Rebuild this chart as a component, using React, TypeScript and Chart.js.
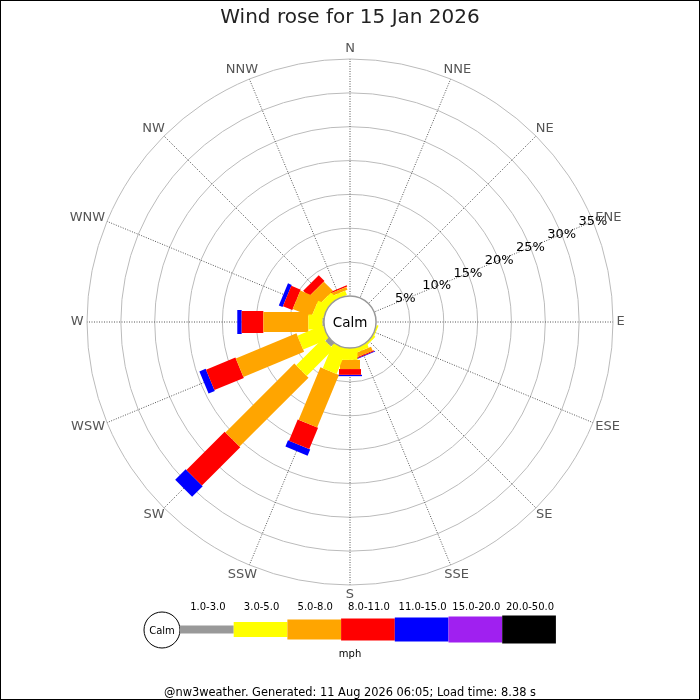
import { useEffect, useRef } from 'react';
import { Chart, registerables } from 'chart.js';

Chart.register(...registerables);

const TITLE = 'Wind rose for 15 Jan 2026';
const FOOTER = '@nw3weather. Generated: 11 Aug 2026 06:05; Load time: 8.38 s';
const UNIT = 'mph';
const CALM_LABEL = 'Calm';

const DIRECTIONS = ['N', 'NNE', 'NE', 'ENE', 'E', 'ESE', 'SE', 'SSE', 'S', 'SSW', 'SW', 'WSW', 'W', 'WNW', 'NW', 'NNW'];
const SPEED_BANDS = ['1.0-3.0', '3.0-5.0', '5.0-8.0', '8.0-11.0', '11.0-15.0', '15.0-20.0', '20.0-50.0'];
const BAND_COLORS = ['#999999', '#ffff00', '#ffa500', '#ff0000', '#0000ff', '#a020f0', '#000000'];
const BAND_WIDTHS = [8, 15, 20, 22, 24, 26, 28];

// percentage of time, per direction (N ... NNW), per speed band
const PCT_1_3 = [0, 0, 0, 0, 0, 0, 0, 0, 0, 0, 0.7, 0, 0.2, 0, 0, 0];
const PCT_3_5 = [0, 0, 0, 0, 0, 0.25, 0.35, 0.7, 1.75, 4.0, 5.6, 4.1, 2.1, 1.7, 1.2, 0.7];
const PCT_5_8 = [0, 0, 0, 0, 0, 0, 0, 0.65, 1.35, 8.4, 14.4, 9.7, 6.65, 3.0, 1.9, 0.45];
const PCT_8_11 = [0, 0, 0, 0, 0, 0, 0, 0.15, 0.85, 3.4, 8.0, 4.7, 3.2, 1.5, 1.2, 0.2];
const PCT_11_15 = [0, 0, 0, 0, 0, 0, 0, 0.1, 0.2, 1.0, 2.2, 1.0, 0.65, 0.6, 0, 0];
const PCT_15_20 = [0, 0, 0, 0, 0, 0, 0, 0, 0, 0, 0, 0, 0, 0, 0, 0];
const PCT_20_50 = [0, 0, 0, 0, 0, 0, 0, 0, 0, 0, 0, 0, 0, 0, 0, 0];

const BAND_DATA = [PCT_1_3, PCT_3_5, PCT_5_8, PCT_8_11, PCT_11_15, PCT_15_20, PCT_20_50];

const RING_TICKS = [5, 10, 15, 20, 25, 30, 35];
const SCALE_MIN = -3.85; // makes 0% fall on the calm circle
const SCALE_MAX = 35;
const TICK_LABEL_DIR = 3; // ENE

const FONT = 'DejaVu Sans';

const rosePlugin = {
  id: 'rose',
  afterDatasetsDraw(chart: any) {
    const ctx = chart.ctx;
    const scale = chart.scales.r;
    const datasets = chart.data.datasets;
    const n = DIRECTIONS.length;
    const cum: number[][] = [];
    for (let i = 0; i < n; i++) {
      let acc = 0;
      cum[i] = [];
      for (let b = 0; b < datasets.length; b++) {
        cum[i][b] = acc;
        acc += datasets[b].data[i] || 0;
      }
    }
    ctx.save();
    for (let b = datasets.length - 1; b >= 0; b--) {
      const w = BAND_WIDTHS[b] / 2;
      ctx.fillStyle = BAND_COLORS[b];
      for (let i = 0; i < n; i++) {
        const v = datasets[b].data[i] || 0;
        if (v <= 0) continue;
        const s = cum[i][b];
        const e = s + v;
        const p0 = scale.getPointPositionForValue(i, s);
        const p1 = scale.getPointPositionForValue(i, e);
        const a = scale.getIndexAngle(i) - Math.PI / 2;
        const nx = -Math.sin(a) * w;
        const ny = Math.cos(a) * w;
        ctx.beginPath();
        ctx.moveTo(p0.x + nx, p0.y + ny);
        ctx.lineTo(p1.x + nx, p1.y + ny);
        ctx.lineTo(p1.x - nx, p1.y - ny);
        ctx.lineTo(p0.x - nx, p0.y - ny);
        ctx.closePath();
        ctx.fill();
      }
    }
    // calm circle
    const rc = scale.getDistanceFromCenterForValue(0);
    ctx.beginPath();
    ctx.arc(scale.xCenter, scale.yCenter, rc, 0, Math.PI * 2);
    ctx.fillStyle = '#ffffff';
    ctx.fill();
    ctx.lineWidth = 1.5;
    ctx.strokeStyle = '#999999';
    ctx.stroke();
    ctx.fillStyle = '#000000';
    ctx.font = `13.5px "${FONT}"`;
    ctx.textAlign = 'center';
    ctx.textBaseline = 'middle';
    ctx.fillText(CALM_LABEL, scale.xCenter, scale.yCenter + 1);
    // ring labels along ENE
    ctx.font = `13px "${FONT}"`;
    RING_TICKS.forEach((t) => {
      const p = scale.getPointPositionForValue(TICK_LABEL_DIR, t);
      ctx.fillText(t + '%', p.x, p.y);
    });
    // compass labels, box touching a circle just outside the outer ring
    const R0 = scale.drawingArea + 3.5;
    ctx.fillStyle = '#555555';
    DIRECTIONS.forEach((lab, i) => {
      const th = scale.getIndexAngle(i);
      const sx = Math.sin(th);
      const cy = -Math.cos(th);
      const tw = ctx.measureText(lab).width;
      const x = scale.xCenter + sx * R0 + sx * tw / 2;
      const y = scale.yCenter + cy * R0 + cy * 6.5;
      ctx.fillText(lab, x, y);
    });
    ctx.restore();
  },
  afterDraw(chart: any) {
    const ctx = chart.ctx;
    ctx.save();
    const cx = 162;
    const cy = 630;
    const x0 = 180;
    const bw = 53.7;
    ctx.beginPath();
    ctx.arc(cx, cy, 18, 0, Math.PI * 2);
    ctx.fillStyle = '#fff';
    ctx.fill();
    ctx.lineWidth = 1;
    ctx.strokeStyle = '#000';
    ctx.stroke();
    ctx.fillStyle = '#000';
    ctx.font = `10px "${FONT}"`;
    ctx.textAlign = 'center';
    ctx.textBaseline = 'middle';
    ctx.fillText(CALM_LABEL, cx, cy + 1);
    SPEED_BANDS.forEach((lab, b) => {
      const h = BAND_WIDTHS[b];
      ctx.fillStyle = BAND_COLORS[b];
      ctx.fillRect(x0 + b * bw, cy - 0.5 - h / 2, bw, h);
      ctx.fillStyle = '#000';
      ctx.fillText(lab, x0 + b * bw + bw / 2 + 1, 607);
    });
    ctx.fillText(UNIT, 350, 654);
    ctx.lineWidth = 1;
    ctx.strokeStyle = '#000';
    ctx.strokeRect(0.5, 0.5, 699, 699);
    ctx.restore();
  },
};

export default function App() {
  const ref = useRef<HTMLCanvasElement | null>(null);
  useEffect(() => {
    document.body.style.margin = '0';
    const canvas = ref.current;
    if (!canvas) return;
    const chart = new Chart(canvas, {
      type: 'radar',
      data: {
        labels: DIRECTIONS,
        datasets: BAND_DATA.map((d, b) => ({
          label: SPEED_BANDS[b],
          data: d,
          showLine: false,
          borderWidth: 0,
          borderColor: 'rgba(0,0,0,0)',
          backgroundColor: BAND_COLORS[b],
          pointRadius: 0,
          pointHoverRadius: 0,
          fill: false,
        })),
      },
      options: {
        responsive: false,
        animation: false,
        events: [],
        layout: { padding: 0 },
        scales: {
          r: {
            min: SCALE_MIN,
            max: SCALE_MAX,
            startAngle: 0,
            afterBuildTicks: (s: any) => {
              s.ticks = RING_TICKS.map((v) => ({ value: v }));
            },
            ticks: { display: false },
            grid: { color: '#bbbbbb', lineWidth: 1, circular: true },
            angleLines: { color: '#555555', lineWidth: 1, borderDash: [1, 1.5] },
            pointLabels: { display: false },
          },
        },
        plugins: {
          legend: { display: false },
          tooltip: { enabled: false },
          title: {
            display: true,
            text: TITLE,
            color: '#222222',
            font: { family: FONT, size: 20, weight: 'normal', lineHeight: 1.2 },
            padding: { top: 6, bottom: 29 },
          },
          subtitle: {
            display: true,
            position: 'bottom',
            text: FOOTER,
            color: '#000000',
            font: { family: FONT, size: 11.4, weight: 'normal', lineHeight: 1.2 },
            padding: { top: 101.3, bottom: 0 },
          },
        },
      } as any,
      plugins: [rosePlugin],
    });
    return () => chart.destroy();
  }, []);
  return <canvas ref={ref} width={700} height={700} style={{ display: 'block' }} />;
}
